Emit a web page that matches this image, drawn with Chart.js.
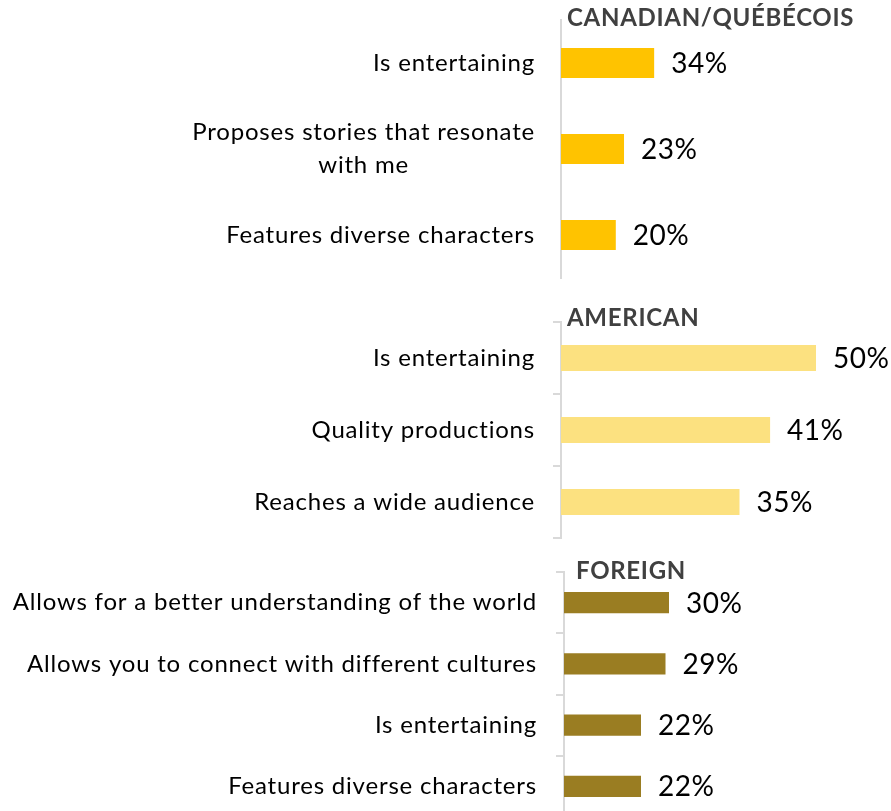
<!DOCTYPE html>
<html><head><meta charset="utf-8">
<script src="https://cdn.jsdelivr.net/npm/chart.js@4.4.0/dist/chart.umd.min.js"></script>
<style>
html,body{margin:0;padding:0;width:891px;height:811px;overflow:hidden;background:#fff;}
.panel{position:absolute;left:0;width:891px;}
canvas{display:block;}
</style></head><body>
<div class="panel" style="top:0px"><canvas id="c1" width="891" height="290"></canvas></div>
<div class="panel" style="top:290px"><canvas id="c2" width="891" height="260"></canvas></div>
<div class="panel" style="top:550px"><canvas id="c3" width="891" height="280"></canvas></div>
<script>
// ---- data ----
const groupTitles = ["CANADIAN/QUÉBÉCOIS", "AMERICAN", "FOREIGN"];
const canadianLabels = ["Is entertaining", ["Proposes stories that resonate", "with me"], "Features diverse characters"];
const canadianValues = [34, 23, 20];
const americanLabels = ["Is entertaining", "Quality productions", "Reaches a wide audience"];
const americanValues = [50, 41, 35];
const foreignLabels = ["Allows for a better understanding of the world", "Allows you to connect with different cultures", "Is entertaining", "Features diverse characters"];
const foreignValues = [30, 29, 22, 22];

const FONT = "Lato, 'Open Sans', sans-serif";
const W = 891;

const panelPlugin = {
  id: 'panelText',
  afterDatasetsDraw(chart) {
    const o = chart.options.plugins.panelText;
    const ctx = chart.ctx;
    const ys = chart.scales.y;
    const area = chart.chartArea;
    ctx.save();
    // category labels
    ctx.font = o.labelSize + "px " + FONT;
    ctx.letterSpacing = "0.8px";
    ctx.fillStyle = "#000000";
    ctx.textBaseline = "middle";
    ctx.textAlign = "center";
    chart.data.labels.forEach((lab, i) => {
      const lines = Array.isArray(lab) ? lab : [lab];
      const y = ys.getPixelForValue(i);
      const right = area.left - o.labelGap;
      const bw = Math.max(...lines.map(l => ctx.measureText(l).width));
      const cx = right - bw / 2;
      lines.forEach((l, k) => {
        ctx.fillText(l, cx, y - (lines.length - 1) * o.lineHeight / 2 + k * o.lineHeight);
      });
    });
    // value labels
    ctx.font = o.valueSize + "px " + FONT;
    ctx.letterSpacing = "0.5px";
    ctx.textAlign = "left";
    const meta = chart.getDatasetMeta(0);
    meta.data.forEach((bar, i) => {
      ctx.fillText(chart.data.datasets[0].data[i] + "%", bar.x + o.valueGap, bar.y + 1);
    });
    // group title
    ctx.font = "bold " + o.titleSize + "px " + FONT;
    ctx.letterSpacing = "0.7px";
    ctx.fillStyle = "#404040";
    ctx.fillText(o.title, area.left + o.titleDx, o.titleY);
    ctx.restore();
  }
};

function makePanel(id, labels, values, color, title, cfg) {
  const padRight = W - cfg.axisX - cfg.xMax * cfg.pxPerUnit;
  return new Chart(document.getElementById(id), {
    type: 'bar',
    data: { labels: labels, datasets: [{ data: values, backgroundColor: color, borderWidth: 0,
      barPercentage: cfg.barPct, categoryPercentage: 1 }] },
    options: {
      indexAxis: 'y', responsive: false, animation: false,
      layout: { padding: { top: cfg.padTop, bottom: cfg.padBottom, left: 0, right: padRight } },
      plugins: { legend: { display: false }, tooltip: { enabled: false },
        panelText: { title: title, titleY: cfg.titleY, titleDx: cfg.titleDx, titleSize: 24,
          labelSize: 24, lineHeight: 33, labelGap: cfg.labelGap, valueSize: 28, valueGap: 17 } },
      scales: {
        x: { display: false, min: 0, max: cfg.xMax },
        y: {
          afterFit(s) { s.width = cfg.axisX; },
          ticks: { display: false },
          grid: { display: true, drawOnChartArea: false, drawTicks: cfg.ticks, tickLength: cfg.ticks ? 8 : 0,
                  color: '#d9d9d9', lineWidth: 2, offset: true },
          border: { display: true, color: '#d9d9d9', width: 2 }
        }
      }
    },
    plugins: [panelPlugin]
  });
}

makePanel('c1', canadianLabels, canadianValues, '#FFC300', groupTitles[0],
  { axisX: 561, xMax: 100, pxPerUnit: 2.74, padTop: 20, padBottom: 12, barPct: 0.35,
    ticks: false, titleY: 18, titleDx: 6, labelGap: 26 });
makePanel('c2', americanLabels, americanValues, '#FCE180', groupTitles[1],
  { axisX: 561, xMax: 60, pxPerUnit: 5.1, padTop: 32, padBottom: 12, barPct: 0.36,
    ticks: true, titleY: 28, titleDx: 6, labelGap: 26 });
makePanel('c3', foreignLabels, foreignValues, '#9A7D22', groupTitles[2],
  { axisX: 564, xMax: 60, pxPerUnit: 3.5, padTop: 22, padBottom: 13, barPct: 0.35,
    ticks: true, titleY: 21, titleDx: 12, labelGap: 27 });
</script>
</body></html>
